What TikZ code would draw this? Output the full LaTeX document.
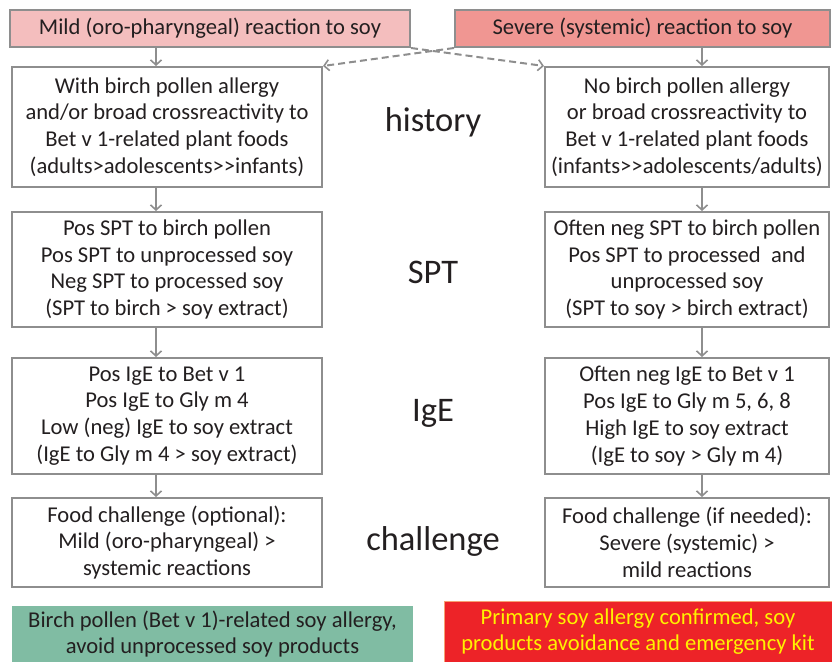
\documentclass[tikz,border=0pt]{standalone}
\usepackage{fontspec}
\setmainfont{Carlito}
\usetikzlibrary{arrows.meta}
\definecolor{edgegray}{RGB}{142,142,142}
\definecolor{inkgray}{RGB}{35,31,32}
\definecolor{mildfill}{RGB}{244,190,190}
\definecolor{severefill}{RGB}{240,150,146}
\definecolor{greenfill}{RGB}{128,188,163}
\definecolor{redfill}{RGB}{237,35,40}
\definecolor{redline}{RGB}{247,160,114}
\definecolor{yellowtext}{RGB}{255,242,0}
\tikzset{
  boxtext/.style={font=\fontsize{22.6}{26.8}\selectfont, text=inkgray, align=center},
  headbox/.style={boxtext, draw=edgegray, line width=2pt, inner sep=0pt},
  stepbox/.style={boxtext, draw=edgegray, line width=2pt, inner sep=0pt, fill=white},
  rowlabel/.style={font=\fontsize{34.5}{40}\selectfont, text=inkgray},
  flow/.style={draw=edgegray, line width=2pt, -{Straight Barb[length=5pt,width=11pt,line width=1.6pt]}},
  cross/.style={flow, dash pattern=on 7pt off 4pt},
}
\begin{document}
\begin{tikzpicture}[x=1pt,y=-1pt]
\useasboundingbox (0,0) rectangle (832,661);

% reaction headers
\node[headbox, fill=mildfill, minimum width=400pt, minimum height=37pt] (mild) at (210,28.5) {Mild (oro-pharyngeal) reaction to soy};
\node[headbox, fill=severefill, minimum width=375pt, minimum height=37pt] (severe) at (642.5,28.5) {Severe (systemic) reaction to soy};

% left column: pollen-related path
\node[stepbox, minimum width=310pt, minimum height=120pt] (l1) at (167,127) {With birch pollen allergy\\and/or broad crossreactivity to\\Bet v 1-related plant foods\\(adults>adolescents>{}>infants)};
\node[stepbox, minimum width=310pt, minimum height=115pt] (l2) at (167,269.5) {Pos SPT to birch pollen\\Pos SPT to unprocessed soy\\Neg SPT to processed soy\\(SPT to birch > soy extract)};
\node[stepbox, minimum width=310pt, minimum height=116pt] (l3) at (167,416) {Pos IgE to Bet v 1\\Pos IgE to Gly m 4\\Low (neg) IgE to soy extract\\(IgE to Gly m 4 > soy extract)};
\node[stepbox, minimum width=310pt, minimum height=89pt] (l4) at (167,542.5) {Food challenge (optional):\\Mild (oro-pharyngeal) >\\systemic reactions};

% right column: primary soy allergy path
\node[stepbox, minimum width=284pt, minimum height=120pt] (r1) at (687,127) {No birch pollen allergy\\or broad crossreactivity to\\Bet v 1-related plant foods\\(infants>{}>adolescents/adults)};
\node[stepbox, minimum width=284pt, minimum height=115pt] (r2) at (687,269.5) {Often neg SPT to birch pollen\\Pos SPT to processed\ \ and\\unprocessed soy\\(SPT to soy > birch extract)};
\node[stepbox, minimum width=284pt, minimum height=116pt] (r3) at (687,416) {Often neg IgE to Bet v 1\\Pos IgE to Gly m 5, 6, 8\\High IgE to soy extract\\(IgE to soy > Gly m 4)};
\node[stepbox, minimum width=284pt, minimum height=89pt] (r4) at (687,542.5) {Food challenge (if needed):\\Severe (systemic) >\\mild reactions};

% row labels
\node[rowlabel] (t1) at (433,122) {history};
\node[rowlabel] (t2) at (433,272) {SPT};
\node[rowlabel] (t3) at (433,413) {IgE};
\node[rowlabel] (t4) at (433,541) {challenge};

% conclusions
\node[boxtext, fill=greenfill, minimum width=401pt, minimum height=56pt, inner sep=0pt] (green) at (212.5,634) {Birch pollen (Bet v 1)-related soy allergy,\\avoid unprocessed soy products};
\node[boxtext, text=yellowtext, fill=redfill, draw=redline, line width=1pt, minimum width=388pt, minimum height=61pt, inner sep=0pt] (red) at (638,631.5) {Primary soy allergy confirmed, soy\\products avoidance and emergency kit};

% arrow lanes
\coordinate (lx) at (156,0);
\coordinate (rx) at (702,0);

\draw[flow] (mild.south -| lx) -- (l1.north -| lx);
\draw[flow] (l1.south -| lx) -- (l2.north -| lx);
\draw[flow] (l2.south -| lx) -- (l3.north -| lx);
\draw[flow] (l3.south -| lx) -- (l4.north -| lx);

\draw[flow] (severe.south -| rx) -- (r1.north -| rx);
\draw[flow] (r1.south -| rx) -- (r2.north -| rx);
\draw[flow] (r2.south -| rx) -- (r3.north -| rx);
\draw[flow] (r3.south -| rx) -- (r4.north -| rx);

% crossing dashed arrows
\draw[cross] (severe.south west) -- (l1.north east);
\draw[cross] (mild.south east) -- (r1.north west);
\end{tikzpicture}
\end{document}
